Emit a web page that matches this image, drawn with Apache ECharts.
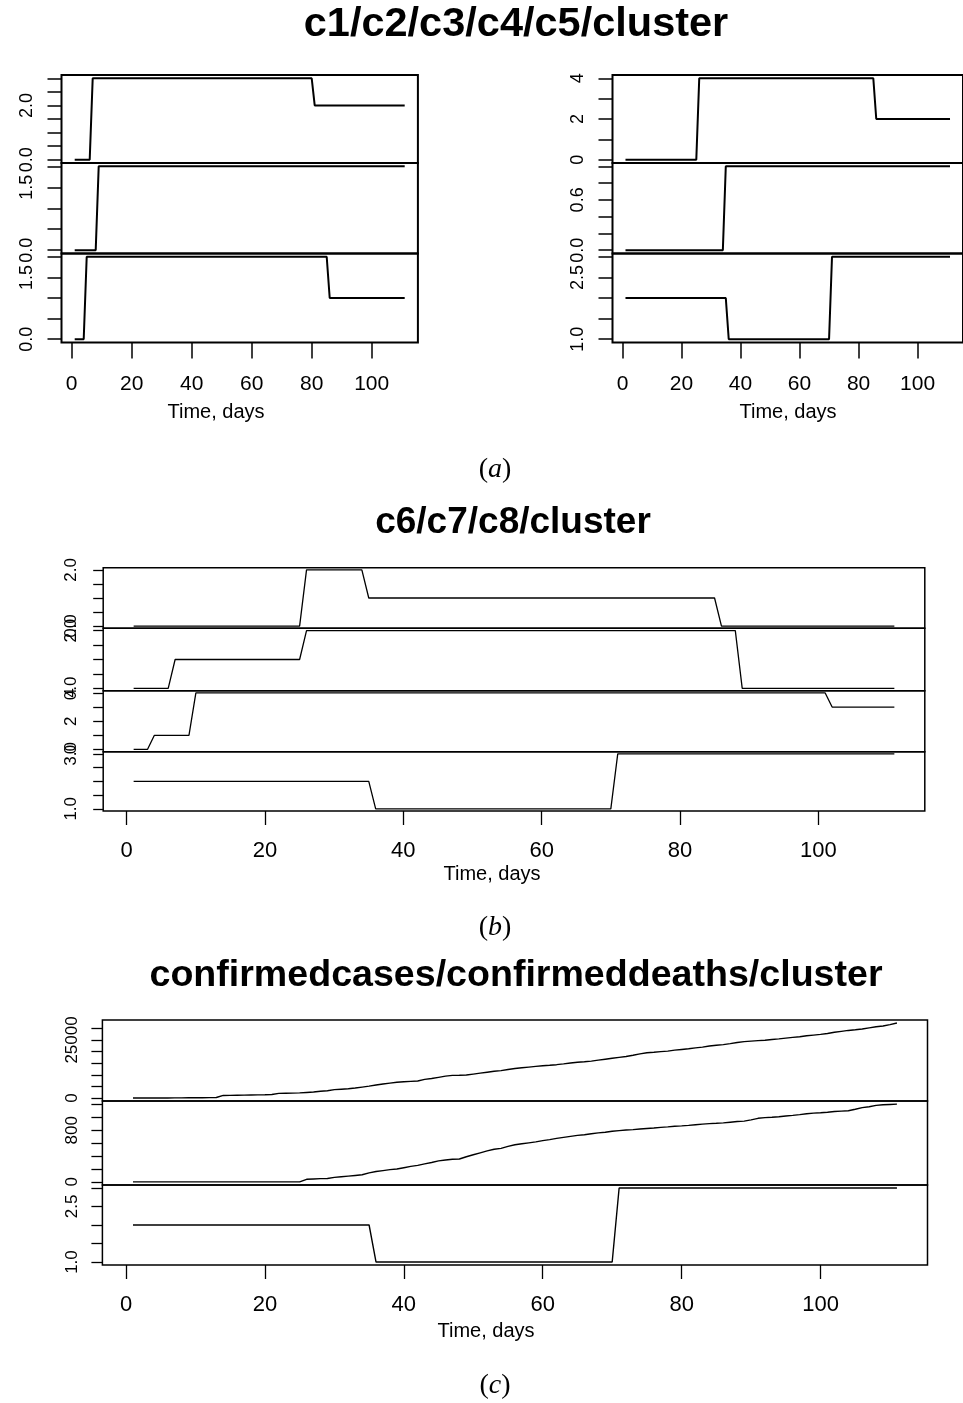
<!DOCTYPE html>
<html>
<head>
<meta charset="utf-8">
<title>cluster panels</title>
<script src="https://cdn.jsdelivr.net/npm/echarts@6/dist/echarts.min.js"></script>
<style>
  html, body { margin: 0; padding: 0; background: #fff; }
  #main { width: 963px; height: 1403px; }
</style>
</head>
<body>
<div id="main"></div>
<script>
// step series, written as [value, number of days] runs starting at day 1
const c1Runs = [[0, 6], [3, 74], [2, 31]]
const c2Runs = [[0, 8], [2, 103]]
const c3Runs = [[0, 4], [2, 81], [1, 26]]
const c4Runs = [[0, 25], [4, 60], [2, 26]]
const c5Runs = [[0, 34], [1, 77]]
const c6Runs = [[0, 25], [2, 9], [1, 51], [0, 26]]
const c7Runs = [[0, 6], [1, 19], [2, 63], [0, 23]]
const c8Runs = [[0, 3], [1, 6], [4, 92], [3, 10]]
const clusterRuns = [[2, 35], [1, 35], [3, 41]]

// cumulative counts, one value per day (days 1..111)
const confirmedCases = [
  0, 0, 0, 10, 20, 30, 50, 60, 80, 100,
  120, 150, 200, 1100, 1150, 1200, 1250, 1300, 1350, 1400,
  1500, 2000, 2050, 2100, 2200, 2400, 2600, 2900, 3100, 3600,
  3800, 4000, 4300, 4700, 5100, 5600, 6000, 6400, 6800, 7000,
  7150, 7300, 8000, 8400, 8900, 9400, 9750, 9800, 9900, 10300,
  10700, 11100, 11500, 11800, 12300, 12700, 13000, 13300, 13600, 13900,
  14100, 14350, 14700, 15100, 15400, 15600, 15900, 16300, 16700, 17100,
  17500, 17900, 18400, 19000, 19500, 19700, 19950, 20200, 20600, 20900,
  21200, 21600, 21900, 22400, 22700, 23000, 23400, 23900, 24300, 24500,
  24700, 24900, 25200, 25450, 25800, 26100, 26400, 26800, 27100, 27400,
  27800, 28300, 28700, 29100, 29400, 29700, 30200, 30700, 31000, 31600,
  32300
]
const confirmedDeaths = [
  0, 0, 0, 0, 0, 0, 0, 0, 0, 0,
  0, 0, 0, 0, 0, 0, 0, 0, 0, 0,
  0, 0, 0, 0, 0, 40, 45, 50, 53, 70,
  80, 90, 100, 110, 140, 160, 175, 190, 200, 220,
  240, 255, 280, 300, 325, 340, 350, 355, 390, 420,
  450, 480, 505, 520, 550, 575, 590, 605, 620, 640,
  655, 675, 690, 705, 720, 730, 745, 760, 770, 785,
  795, 805, 810, 820, 828, 835, 845, 852, 862, 868,
  875, 885, 895, 903, 908, 915, 925, 935, 942, 960,
  985, 995, 1002, 1010, 1020, 1030, 1042, 1055, 1065, 1072,
  1080, 1090, 1097, 1102, 1125, 1150, 1165, 1185, 1195, 1200,
  1205
]

// tick marks and the tick labels that are actually printed
const xTicks = [0, 20, 40, 60, 80, 100]
const c1Ticks = [0, 0.5, 1, 1.5, 2, 2.5, 3]
const c1Labels = [0, 2]
const c2Ticks = [0, 0.5, 1, 1.5, 2]
const c2Labels = [0, 1.5]
const c3Ticks = [0, 0.5, 1, 1.5, 2]
const c3Labels = [0, 1.5]
const c4Ticks = [0, 1, 2, 3, 4]
const c4Labels = [0, 2, 4]
const c5Ticks = [0, 0.2, 0.4, 0.6, 0.8, 1]
const c5Labels = [0, 0.6]
const c6Ticks = [0, 0.5, 1, 1.5, 2]
const c6Labels = [0, 2]
const c7Ticks = [0, 0.5, 1, 1.5, 2]
const c7Labels = [0, 2]
const c8Ticks = [0, 1, 2, 3, 4]
const c8Labels = [0, 2, 4]
const clusterTicks = [1, 1.5, 2, 2.5, 3]
const clusterLabelsA = [1, 2.5]
const clusterLabelsB = [1, 3]
const clusterLabelsC = [1, 2.5]
const casesTicks = [0, 5000, 10000, 15000, 20000, 25000, 30000]
const casesLabels = [0, 25000]
const deathsTicks = [0, 200, 400, 600, 800, 1000, 1200]
const deathsLabels = [0, 800]

const titleA = 'c1/c2/c3/c4/c5/cluster'
const titleB = 'c6/c7/c8/cluster'
const titleC = 'confirmedcases/confirmeddeaths/cluster'
const xName = 'Time, days'

function expand (runs) {
  let out = []
  runs.forEach(r => { for (let k = 0; k < r[1]; k++) out.push(r[0]) })
  return out
}

const nDays = confirmedCases.length
const xPad = (nDays - 1) * 0.04
const xMin = 1 - xPad
const xMax = nDays + xPad

const sans = 'Liberation Sans'
const styleA = { frame: 2, line: 2, tickW: 1.5, yTick: 14, xTick: 16, yFont: 18, yMargin: 25, xFont: 21, xMargin: 31 }
const styleB = { frame: 1.5, line: 1.3, tickW: 1.3, yTick: 10, xTick: 14, yFont: 17, yMargin: 23, xFont: 22, xMargin: 29 }
const styleC = { frame: 1.5, line: 1.4, tickW: 1.3, yTick: 11, xTick: 14, yFont: 17, yMargin: 22, xFont: 22, xMargin: 29 }

let grids = []
let xAxes = []
let yAxes = []
let series = []

function panel (box, values, ticks, labels, decimals, st, bottom) {
  const idx = grids.length
  const lo = Math.min(...values)
  const hi = Math.max(...values)
  const pad = (hi - lo) * 0.04
  grids.push({
    left: box[0], top: box[1], width: box[2], height: box[3],
    show: true, borderColor: '#000', borderWidth: st.frame, backgroundColor: 'transparent'
  })
  xAxes.push({
    gridIndex: idx, type: 'value', min: xMin, max: xMax, show: bottom,
    axisLine: { show: false, onZero: false },
    splitLine: { show: false },
    axisTick: { show: true, customValues: xTicks, length: st.xTick, lineStyle: { color: '#000', width: st.tickW } },
    axisLabel: { customValues: xTicks, margin: st.xMargin, fontSize: st.xFont, fontFamily: sans, color: '#000' }
  })
  yAxes.push({
    gridIndex: idx, type: 'value', min: lo - pad, max: hi + pad,
    axisLine: { show: false, onZero: false },
    splitLine: { show: false },
    axisTick: { show: true, customValues: ticks, length: st.yTick, lineStyle: { color: '#000', width: st.tickW } },
    axisLabel: {
      customValues: labels, rotate: 90, margin: st.yMargin,
      fontSize: st.yFont, fontFamily: sans, color: '#000',
      formatter: v => Number(v).toFixed(decimals)
    }
  })
  series.push({
    type: 'line', xAxisIndex: idx, yAxisIndex: idx,
    data: values.map((v, i) => [i + 1, v]),
    showSymbol: false, symbol: 'none',
    lineStyle: { color: '#000', width: st.line },
    animation: false
  })
}

// (a) two stacked plots side by side
const aRows = [[75, 88], [163, 90.5], [253.5, 89]]
panel([61.5, aRows[0][0], 356.4, aRows[0][1]], expand(c1Runs), c1Ticks, c1Labels, 1, styleA, false)
panel([61.5, aRows[1][0], 356.4, aRows[1][1]], expand(c2Runs), c2Ticks, c2Labels, 1, styleA, false)
panel([61.5, aRows[2][0], 356.4, aRows[2][1]], expand(c3Runs), c3Ticks, c3Labels, 1, styleA, true)
panel([612.5, aRows[0][0], 356.4, aRows[0][1]], expand(c4Runs), c4Ticks, c4Labels, 0, styleA, false)
panel([612.5, aRows[1][0], 356.4, aRows[1][1]], expand(c5Runs), c5Ticks, c5Labels, 1, styleA, false)
panel([612.5, aRows[2][0], 356.4, aRows[2][1]], expand(clusterRuns), clusterTicks, clusterLabelsA, 1, styleA, true)

// (b) four panels
const bRows = [[567.7, 60.6], [628.3, 62.4], [690.7, 61], [751.7, 59.3]]
panel([103.2, bRows[0][0], 821.6, bRows[0][1]], expand(c6Runs), c6Ticks, c6Labels, 1, styleB, false)
panel([103.2, bRows[1][0], 821.6, bRows[1][1]], expand(c7Runs), c7Ticks, c7Labels, 1, styleB, false)
panel([103.2, bRows[2][0], 821.6, bRows[2][1]], expand(c8Runs), c8Ticks, c8Labels, 0, styleB, false)
panel([103.2, bRows[3][0], 821.6, bRows[3][1]], expand(clusterRuns), clusterTicks, clusterLabelsB, 1, styleB, true)

// (c) three panels
const cRows = [[1020, 81], [1101, 84], [1185, 80]]
panel([102.4, cRows[0][0], 825.1, cRows[0][1]], confirmedCases, casesTicks, casesLabels, 0, styleC, false)
panel([102.4, cRows[1][0], 825.1, cRows[1][1]], confirmedDeaths, deathsTicks, deathsLabels, 0, styleC, false)
panel([102.4, cRows[2][0], 825.1, cRows[2][1]], expand(clusterRuns), clusterTicks, clusterLabelsC, 1, styleC, true)

function txt (x, y, text, size, weight) {
  return {
    type: 'text', x: x, y: y, silent: true,
    style: { text: text, fill: '#000', fontSize: size, fontWeight: weight || 'normal', fontFamily: sans, align: 'center', verticalAlign: 'middle' }
  }
}
function tag (x, y, letter) {
  return {
    type: 'text', x: x, y: y, silent: true,
    style: {
      text: '{p|(}{i|' + letter + '}{p|)}', align: 'center', verticalAlign: 'middle',
      rich: {
        p: { fontFamily: 'Liberation Serif', fontSize: 28, fill: '#000' },
        i: { fontFamily: 'Liberation Serif', fontSize: 28, fontStyle: 'italic', fill: '#000' }
      }
    }
  }
}

let graphics = [
  txt(516, 25, titleA, 41.5, 'bold'),
  txt(216, 412, xName, 20),
  txt(788, 412, xName, 20),
  tag(495, 470, 'a'),
  txt(513, 523, titleB, 37, 'bold'),
  txt(492, 874, xName, 20),
  tag(495, 928, 'b'),
  txt(516, 976, titleC, 37.6, 'bold'),
  txt(486, 1331, xName, 20),
  tag(495, 1386, 'c')
]

let chart = echarts.init(document.getElementById('main'))
chart.setOption({
  animation: false,
  backgroundColor: '#fff',
  grid: grids,
  xAxis: xAxes,
  yAxis: yAxes,
  series: series,
  graphic: graphics
})
</script>
</body>
</html>
